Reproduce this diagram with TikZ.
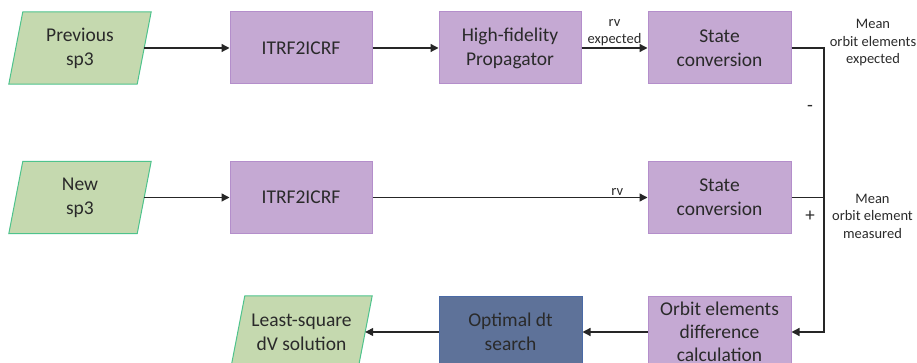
\documentclass[tikz,border=0pt]{standalone}
\usepackage{fontspec}
\setmainfont{Carlito}
\usetikzlibrary{arrows.meta,backgrounds}
\definecolor{purfill}{HTML}{C5A9D3}
\definecolor{purdraw}{HTML}{B48ECB}
\definecolor{grnfill}{HTML}{C5D9AF}
\definecolor{grndraw}{HTML}{4EC38C}
\definecolor{blufill}{HTML}{5E7299}
\definecolor{bludraw}{HTML}{4A6AA6}
\definecolor{txt}{HTML}{2A2A2A}
\definecolor{lin}{HTML}{262626}
\tikzset{
  boxtext/.style={font=\fontsize{19.5}{24}\selectfont, text=txt, align=center, inner sep=0pt},
  purbox/.style={boxtext, rectangle, fill=purfill, draw=purdraw, line width=1pt, minimum height=72pt},
  blubox/.style={boxtext, rectangle, fill=blufill, draw=bludraw, line width=1pt, minimum height=72pt},
  paranode/.style={boxtext, rectangle, minimum height=72pt, minimum width=128pt},
  paraedge/.style={fill=grnfill, draw=grndraw, line width=1pt},
  lbl/.style={font=\fontsize{14.5}{17.5}\selectfont, text=txt, align=center, inner sep=1.5pt},
  sign/.style={font=\fontsize{19}{22}\selectfont, text=txt, inner sep=0pt},
  conn/.style={draw=lin, line width=1.3pt, -{Triangle[length=8pt,width=8pt]}},
  plain/.style={draw=lin, line width=1.3pt}
}
\begin{document}
\begin{tikzpicture}[x=1pt,y=-1pt]
\useasboundingbox (0,0) rectangle (917,363);
\clip (0,0) rectangle (917,363);

% row 1
\node[paranode] (prev) at (80,48) {Previous\\sp3};
\node[purbox, minimum width=142pt] (itrfA) at (301,48) {ITRF2ICRF};
\node[purbox, minimum width=142pt] (hfp) at (510,48) {High-fidelity\\Propagator};
\node[purbox, minimum width=143pt] (scA) at (719.5,48) {State\\conversion};

% row 2
\node[paranode] (new) at (80,197.5) {New\\sp3};
\node[purbox, minimum width=142pt, minimum height=71pt] (itrfB) at (301,197.5) {ITRF2ICRF};
\node[purbox, minimum width=143pt, minimum height=71pt] (scB) at (719.5,197.5) {State\\conversion};

% row 3
\node[paranode, minimum width=127pt] (lsq) at (301.5,332) {Least-square\\dV solution};
\node[blubox, minimum width=143pt] (opt) at (510.5,332) {Optimal dt\\search};
\node[purbox, minimum width=143pt, font=\fontsize{19.5}{23}\selectfont] (orb) at (719.5,332) {Orbit elements\\difference\\calculation};

\begin{scope}[on background layer]
\draw[paraedge] ([xshift=7pt]prev.north west) -- ([xshift=7pt]prev.north east) -- ([xshift=-7pt]prev.south east) -- ([xshift=-7pt]prev.south west) -- cycle;
\draw[paraedge] ([xshift=7pt]new.north west) -- ([xshift=7pt]new.north east) -- ([xshift=-7pt]new.south east) -- ([xshift=-7pt]new.south west) -- cycle;
\draw[paraedge] ([xshift=7pt]lsq.north west) -- ([xshift=7pt]lsq.north east) -- ([xshift=-7pt]lsq.south east) -- ([xshift=-7pt]lsq.south west) -- cycle;
\end{scope}

% connectors
\draw[conn] (prev) -- (itrfA);
\draw[conn] (itrfA) -- (hfp);
\draw[conn] (hfp) -- node[lbl, above] (lrv1) {rv\\expected} (scA);
\draw[conn] (new) -- (itrfB);
\draw[conn] (itrfB) -- node[lbl, above, pos=0.89] (lrv2) {rv} (scB);

\coordinate (jA) at (824,48);
\coordinate (jB) at (824,197.5);
\coordinate (jC) at (824,332);
\draw[plain] (scA.east) -- (jA) -- (jB);
\draw[plain] (scB.east) -- (jB);
\draw[conn] (jB) -- (jC) -- (orb.east);
\draw[conn] (orb) -- (opt);
\draw[conn] (opt) -- (lsq);

% labels
\node[lbl] (mexp) at (873,43) {Mean\\orbit elements\\expected};
\node[lbl] (mmeas) at (872.5,216) {Mean\\orbit element\\measured};
\node[sign] (minus) at (810,108) {-};
\node[sign] (plus) at (810,216) {+};
\end{tikzpicture}
\end{document}
